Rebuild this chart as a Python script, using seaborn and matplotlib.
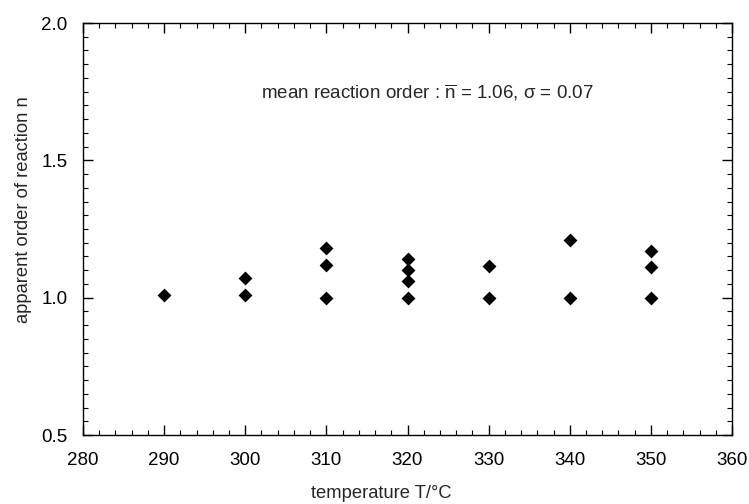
import matplotlib
matplotlib.use("Agg")
import matplotlib.pyplot as plt
import seaborn as sns
import pandas as pd
from matplotlib.ticker import MultipleLocator

temperature = [290, 300, 300, 310, 310, 310, 320, 320, 320, 320, 330, 330, 340, 340, 350, 350, 350]
order_n = [1.01, 1.01, 1.07, 1.00, 1.12, 1.18, 1.00, 1.06, 1.10, 1.14, 1.00, 1.115, 1.00, 1.21, 1.00, 1.11, 1.17]
x_ticks = [280, 290, 300, 310, 320, 330, 340, 350, 360]
y_ticks = [0.5, 1.0, 1.5, 2.0]

df = pd.DataFrame({"T": temperature, "n": order_n})

sns.set_theme(style="ticks")
plt.rcParams["font.family"] = ["Liberation Sans", "DejaVu Sans"]
plt.rcParams["mathtext.fontset"] = "custom"
plt.rcParams["mathtext.rm"] = "Liberation Sans"
plt.rcParams["mathtext.it"] = "Liberation Sans"

fig = plt.figure(figsize=(7.49, 5.04), dpi=100)
ax = fig.add_axes([83/749, 1 - 435/504, (732-83)/749, (435-23)/504])

sns.scatterplot(data=df, x="T", y="n", marker="D", s=50, color="black",
                edgecolor="black", linewidth=0, ax=ax)

ax.set_xlim(280, 360)
ax.set_ylim(0.5, 2.0)
ax.set_xticks(x_ticks)
ax.set_yticks(y_ticks)
ax.set_yticklabels([f"{v:.1f}" for v in y_ticks])
ax.xaxis.set_minor_locator(MultipleLocator(2))
ax.yaxis.set_minor_locator(MultipleLocator(0.05))
ax.tick_params(which="both", direction="in", top=True, right=True, colors="black",
               labelsize=13.5)
ax.tick_params(which="major", length=7, width=1)
ax.tick_params(which="minor", length=3.5, width=0.8)
ax.tick_params(axis="x", which="major", pad=12)
ax.tick_params(axis="y", which="major", pad=11)
for sp in ax.spines.values():
    sp.set_color("black")
    sp.set_linewidth(1)

ax.set_xlabel("temperature T/°C", fontsize=13.2)
ax.set_ylabel("apparent order of reaction n", fontsize=13.2)
ax.xaxis.set_label_coords(0.46, -0.122)
ax.yaxis.set_label_coords(-0.078, 0.546)

ax.text(0.53, 0.83, r"mean reaction order : $\overline{\mathrm{n}}$ = 1.06, σ = 0.07",
        transform=ax.transAxes, ha="center", va="center", fontsize=13.5)

fig.savefig("out.png", dpi=100)
